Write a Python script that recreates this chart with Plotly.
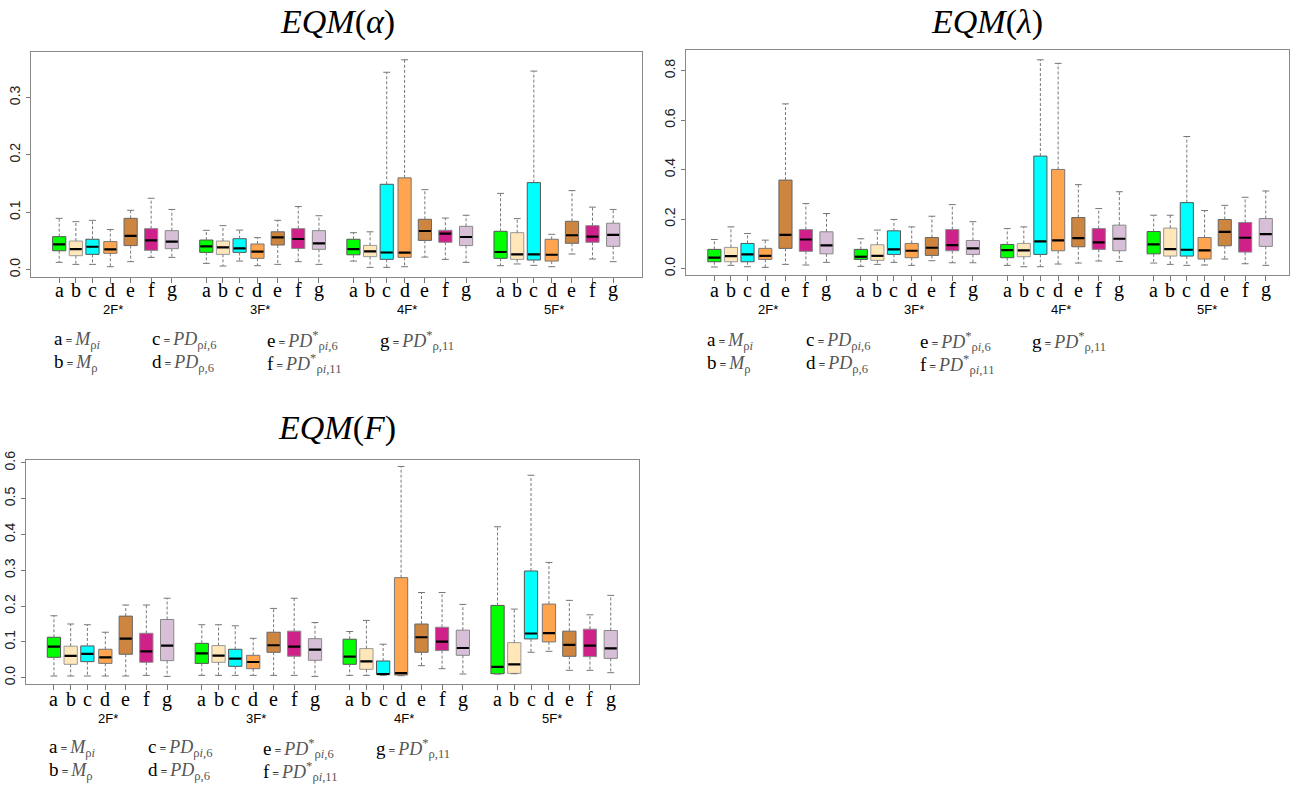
import plotly.graph_objects as go

# ---------------- data ----------------
METHODS = ["a", "b", "c", "d", "e", "f", "g"]
GROUPS = ["2F*", "3F*", "4F*", "5F*"]
PANEL_TITLES = ["<i>EQM</i>(<i>α</i>)", "<i>EQM</i>(<i>λ</i>)", "<i>EQM</i>(<i>F</i>)"]
Y_TICKS_ALPHA = [0.0, 0.1, 0.2, 0.3]
Y_TICKS_LAMBDA = [0.0, 0.2, 0.4, 0.6, 0.8]
Y_TICKS_F = [0.0, 0.1, 0.2, 0.3, 0.4, 0.5, 0.6]

# EQM(alpha)  rows = groups (2F*,3F*,4F*,5F*), cols = methods a..g
alpha_lo = [[0.0128, 0.0093, 0.0093, 0.0052, 0.014, 0.0215, 0.0215],
            [0.011, 0.0064, 0.015, 0.007, 0.0093, 0.014, 0.0093],
            [0.015, 0.004, 0.004, 0.0052, 0.022, 0.018, 0.0128],
            [0.007, 0.010, 0.0076, 0.0052, 0.0273, 0.0186, 0.014]]
alpha_q1 = [[0.033, 0.0244, 0.0267, 0.0285, 0.042, 0.0337, 0.0366],
            [0.0302, 0.0267, 0.0302, 0.0198, 0.043, 0.037, 0.0355],
            [0.026, 0.0227, 0.018, 0.0215, 0.051, 0.0477, 0.042],
            [0.0198, 0.018, 0.0169, 0.015, 0.046, 0.0477, 0.0407]]
alpha_med = [[0.0442, 0.036, 0.040, 0.0355, 0.059, 0.051, 0.049],
             [0.0407, 0.039, 0.037, 0.0314, 0.0564, 0.0535, 0.046],
             [0.036, 0.032, 0.030, 0.0297, 0.0674, 0.0628, 0.057],
             [0.0308, 0.0267, 0.0267, 0.026, 0.060, 0.0576, 0.0605]]
alpha_q3 = [[0.0576, 0.050, 0.053, 0.049, 0.0895, 0.0715, 0.068],
            [0.0517, 0.050, 0.054, 0.0448, 0.066, 0.0715, 0.068],
            [0.053, 0.0424, 0.1488, 0.160, 0.0878, 0.0686, 0.0756],
            [0.0669, 0.0645, 0.1517, 0.053, 0.0843, 0.0767, 0.081]]
alpha_hi = [[0.0895, 0.0837, 0.086, 0.070, 0.1035, 0.1244, 0.105],
            [0.0686, 0.0767, 0.069, 0.0558, 0.086, 0.110, 0.094],
            [0.0645, 0.066, 0.344, 0.3657, 0.1395, 0.090, 0.0948],
            [0.133, 0.089, 0.346, 0.0616, 0.1378, 0.109, 0.105]]

# EQM(lambda)
lambda_lo = [[0.0067, 0.0134, 0.008, 0.0054, 0.0174, 0.0148, 0.0255],
             [0.0094, 0.0174, 0.0255, 0.0134, 0.0322, 0.024, 0.024],
             [0.0134, 0.008, 0.008, 0.0188, 0.0228, 0.031, 0.0295],
             [0.0228, 0.0174, 0.0134, 0.0148, 0.039, 0.020, 0.0134]]
lambda_q1 = [[0.028, 0.028, 0.028, 0.0376, 0.082, 0.070, 0.060],
             [0.0376, 0.0336, 0.0577, 0.0443, 0.0537, 0.0725, 0.0577],
             [0.0443, 0.0483, 0.0577, 0.0725, 0.0886, 0.078, 0.0725],
             [0.060, 0.051, 0.051, 0.039, 0.0926, 0.067, 0.090]]
lambda_med = [[0.0443, 0.051, 0.0577, 0.052, 0.137, 0.118, 0.094],
              [0.0483, 0.052, 0.078, 0.0725, 0.0846, 0.0953, 0.082],
              [0.075, 0.0738, 0.110, 0.114, 0.1235, 0.106, 0.121],
              [0.098, 0.079, 0.0765, 0.0738, 0.149, 0.125, 0.1396]]
lambda_q3 = [[0.078, 0.086, 0.102, 0.082, 0.358, 0.158, 0.149],
             [0.078, 0.0966, 0.153, 0.102, 0.126, 0.158, 0.114],
             [0.098, 0.102, 0.455, 0.401, 0.2067, 0.162, 0.176],
             [0.150, 0.164, 0.267, 0.126, 0.1987, 0.1866, 0.2027]]
lambda_hi = [[0.118, 0.169, 0.142, 0.1154, 0.666, 0.263, 0.223],
             [0.121, 0.156, 0.199, 0.169, 0.212, 0.259, 0.190],
             [0.162, 0.169, 0.844, 0.8295, 0.3396, 0.243, 0.311],
             [0.216, 0.216, 0.534, 0.235, 0.256, 0.2886, 0.314]]

# EQM(F)
f_lo = [[0.0047, 0.0047, 0.0047, 0.0047, 0.0047, 0.0065, 0.0037],
        [0.0065, 0.0065, 0.0065, 0.0065, 0.0065, 0.0065, 0.0037],
        [0.0065, 0.0065, 0.0065, 0.0056, 0.0336, 0.0252, 0.0103],
        [0.0103, 0.0112, 0.071, 0.0738, 0.0206, 0.0206, 0.014]]
f_q1 = [[0.057, 0.0374, 0.0449, 0.040, 0.0654, 0.043, 0.0477],
        [0.040, 0.043, 0.0318, 0.0252, 0.071, 0.060, 0.0486],
        [0.0374, 0.0234, 0.0084, 0.0075, 0.071, 0.0757, 0.0626],
        [0.0112, 0.0121, 0.1084, 0.100, 0.0598, 0.0589, 0.054]]
f_med = [[0.087, 0.061, 0.0664, 0.057, 0.109, 0.0738, 0.0897],
         [0.068, 0.0617, 0.0533, 0.0439, 0.0907, 0.087, 0.0785],
         [0.0589, 0.0458, 0.0103, 0.013, 0.113, 0.101, 0.083],
         [0.030, 0.0374, 0.1234, 0.1243, 0.0916, 0.0897, 0.0822]]
f_q3 = [[0.113, 0.088, 0.0888, 0.0794, 0.172, 0.124, 0.1626],
        [0.096, 0.0897, 0.0794, 0.0626, 0.127, 0.130, 0.109],
        [0.1075, 0.0813, 0.0467, 0.2794, 0.150, 0.141, 0.1327],
        [0.2019, 0.098, 0.298, 0.2056, 0.130, 0.1355, 0.1318]]
f_hi = [[0.173, 0.150, 0.148, 0.127, 0.203, 0.203, 0.222],
        [0.148, 0.148, 0.145, 0.110, 0.1935, 0.222, 0.154],
        [0.129, 0.160, 0.0935, 0.590, 0.238, 0.238, 0.2047],
        [0.4215, 0.1916, 0.5654, 0.322, 0.216, 0.1757, 0.230]]

LEGEND_ROW1 = [("a", "<i>M</i><sub>ρ<i>i</i></sub>"),
               ("c", "<i>PD</i><sub>ρ<i>i</i>,6</sub>"),
               ("e", "<i>PD</i><sup>*</sup><sub>ρ<i>i</i>,6</sub>"),
               ("g", "<i>PD</i><sup>*</sup><sub>ρ,11</sub>")]
LEGEND_ROW2 = [("b", "<i>M</i><sub>ρ</sub>"),
               ("d", "<i>PD</i><sub>ρ,6</sub>"),
               ("f", "<i>PD</i><sup>*</sup><sub>ρ<i>i</i>,11</sub>")]

# ---------------- styling / layout ----------------
W, H = 1291, 791
FILL = ["#00FF00", "#FFE7BA", "#00FFFF", "#FFA54F", "#CD853F", "#D0208A", "#D8BFD8"]
EDGE = ["#555555", "#999999", "#555555", "#777777", "#666666", "#888888", "#888888"]
OFFSETS = [0, 0.82, 1.64, 2.52, 3.52, 4.53, 5.55]
STEP = 7.25
BOXW = 0.65
CAPW = 0.17
SERIF = "Liberation Serif, Times New Roman, serif"
SANS = "Liberation Sans, Arial, sans-serif"

panels = [
    dict(lo=alpha_lo, q1=alpha_q1, med=alpha_med, q3=alpha_q3, hi=alpha_hi,
         px=(31, 642), py=(51.7, 276.7), xr=[-1.39, 28.72], yr=[-0.0122, 0.3798],
         ticks=Y_TICKS_ALPHA, title_xy=(337, 22),
         let_y=290, grp_y=309, leg_y=(340, 363), leg_x=(52, 150, 265, 378)),
    dict(lo=lambda_lo, q1=lambda_q1, med=lambda_med, q3=lambda_q3, hi=lambda_hi,
         px=(685.7, 1289), py=(50, 275), xr=[-1.42, 28.45], yr=[-0.0255, 0.8836],
         ticks=Y_TICKS_LAMBDA, title_xy=(987, 22),
         let_y=290, grp_y=309, leg_y=(341, 364), leg_x=(705, 804, 918, 1030)),
    dict(lo=f_lo, q1=f_q1, med=f_med, q3=f_q3, hi=f_hi,
         px=(26, 639.3), py=(460, 684.3), xr=[-1.37, 28.7], yr=[-0.0184, 0.608],
         ticks=Y_TICKS_F, title_xy=(337, 428),
         let_y=699, grp_y=718, leg_y=(748, 771), leg_x=(47, 146, 261, 374)),
]

fig = go.Figure()
annotations = []
layout_axes = {}

for pi, P in enumerate(panels):
    n = "" if pi == 0 else str(pi + 1)
    xa, ya = "x" + n, "y" + n
    positions = [[g * STEP + OFFSETS[j] for j in range(7)] for g in range(4)]

    # whiskers (dashed) and caps
    wx, wy, cx, cy = [], [], [], []
    for g in range(4):
        for j in range(7):
            p = positions[g][j]
            wx += [p, p, None, p, p, None]
            wy += [P["q3"][g][j], P["hi"][g][j], None, P["q1"][g][j], P["lo"][g][j], None]
            cx += [p - CAPW, p + CAPW, None, p - CAPW, p + CAPW, None]
            cy += [P["hi"][g][j], P["hi"][g][j], None, P["lo"][g][j], P["lo"][g][j], None]
    fig.add_trace(go.Scatter(x=wx, y=wy, mode="lines", xaxis=xa, yaxis=ya,
                             line=dict(color="#777777", width=1, dash="3px,2px"),
                             showlegend=False, hoverinfo="skip"))
    fig.add_trace(go.Scatter(x=cx, y=cy, mode="lines", xaxis=xa, yaxis=ya,
                             line=dict(color="#777777", width=1),
                             showlegend=False, hoverinfo="skip"))

    # boxes
    for j in range(7):
        xs = [positions[g][j] for g in range(4)]
        q1 = [P["q1"][g][j] for g in range(4)]
        q3 = [P["q3"][g][j] for g in range(4)]
        md = [P["med"][g][j] for g in range(4)]
        fig.add_trace(go.Box(x=xs, q1=q1, median=md, q3=q3, lowerfence=q1, upperfence=q3,
                             width=BOXW, fillcolor=FILL[j], line=dict(color=EDGE[j], width=1),
                             boxpoints=False, whiskerwidth=0, xaxis=xa, yaxis=ya,
                             showlegend=False, hoverinfo="skip"))

    # medians
    mx, my = [], []
    for g in range(4):
        for j in range(7):
            p = positions[g][j]
            mx += [p - BOXW / 2 + 0.03, p + BOXW / 2 - 0.03, None]
            my += [P["med"][g][j], P["med"][g][j], None]
    fig.add_trace(go.Scatter(x=mx, y=my, mode="lines", xaxis=xa, yaxis=ya,
                             line=dict(color="black", width=2.2),
                             showlegend=False, hoverinfo="skip"))

    tickvals = [positions[g][j] for g in range(4) for j in range(7)]
    x0, x1 = P["px"]
    y0, y1 = P["py"]
    layout_axes["xaxis" + n] = dict(
        domain=[x0 / W, x1 / W], range=P["xr"], anchor=ya, automargin=False,
        tickvals=tickvals, showticklabels=False, ticks="outside", ticklen=5,
        tickcolor="#777777",
        showline=True, mirror=True, linecolor="#888888", linewidth=1,
        showgrid=False, zeroline=False, fixedrange=True)
    layout_axes["yaxis" + n] = dict(
        domain=[1 - y1 / H, 1 - y0 / H], range=P["yr"], anchor=xa, automargin=False,
        tickvals=P["ticks"], ticktext=["%.1f" % t for t in P["ticks"]],
        tickangle=-90, ticks="outside", ticklen=4, tickcolor="#777777",
        tickfont=dict(family=SANS, size=14, color="#222222"),
        showline=True, mirror=True, linecolor="#888888", linewidth=1,
        showgrid=False, zeroline=False, fixedrange=True)

    # method letters under each box
    for g in range(4):
        for j in range(7):
            annotations.append(dict(text=METHODS[j], x=positions[g][j], y=1 - P["let_y"] / H,
                                    xref=xa, yref="paper", showarrow=False,
                                    xanchor="center", yanchor="middle",
                                    font=dict(family=SERIF, size=20, color="black")))
    # title
    tx, ty = P["title_xy"]
    annotations.append(dict(text=PANEL_TITLES[pi], x=tx / W, y=1 - ty / H,
                            xref="paper", yref="paper", showarrow=False,
                            xanchor="center", yanchor="middle",
                            font=dict(family=SERIF, size=34, color="black")))
    # group labels
    for g in range(4):
        gc = sum(positions[g]) / 7
        annotations.append(dict(text=GROUPS[g], x=gc, y=1 - P["grp_y"] / H,
                                xref=xa, yref="paper", showarrow=False,
                                xanchor="center", yanchor="middle",
                                font=dict(family=SANS, size=13, color="black")))
    # legend text
    for row, ly in ((LEGEND_ROW1, P["leg_y"][0]), (LEGEND_ROW2, P["leg_y"][1])):
        for k, (lab, expr) in enumerate(row):
            txt = ("<span style='font-size:19px'>%s</span>"
                   "<span style='font-size:12px'> = </span>"
                   "<span style='color:#555555'>%s</span>") % (lab, expr)
            annotations.append(dict(text=txt, x=P["leg_x"][k] / W, y=1 - ly / H,
                                    xref="paper", yref="paper", showarrow=False,
                                    xanchor="left", yanchor="middle",
                                    font=dict(family=SERIF, size=18, color="black")))

fig.update_layout(
    template="none",
    width=W, height=H, autosize=False,
    margin=dict(l=0, r=0, t=0, b=0, pad=0),
    paper_bgcolor="white", plot_bgcolor="white",
    showlegend=False, boxmode="overlay",
    annotations=annotations,
    **layout_axes,
)

fig.write_html("out.html", config={"displayModeBar": False},
               post_script="document.body.style.margin='0';"
                           "document.body.style.overflow='hidden';")
